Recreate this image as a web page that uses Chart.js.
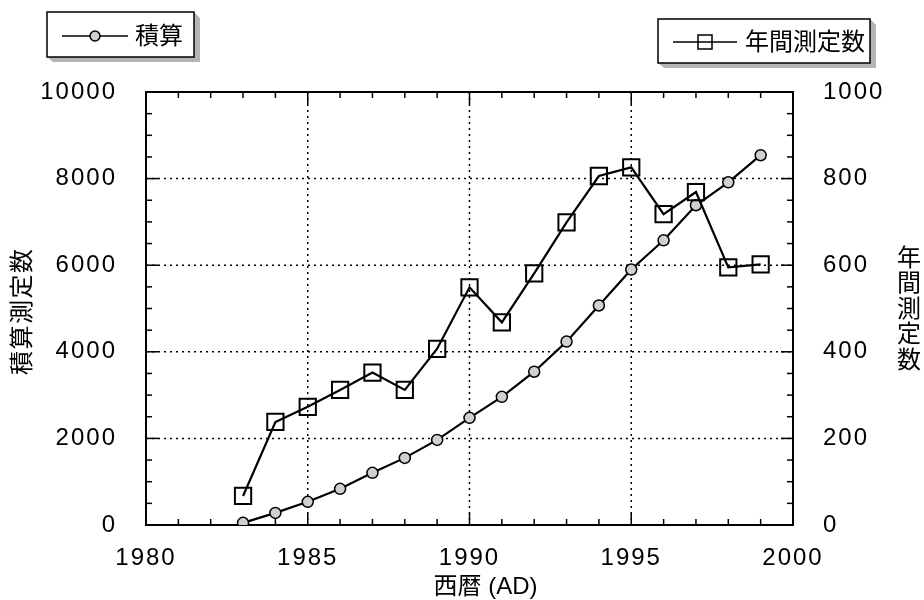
<!DOCTYPE html>
<html>
<head>
<meta charset="utf-8">
<script src="https://cdn.jsdelivr.net/npm/chart.js@4.4.0/dist/chart.umd.min.js"></script>
<style>
  html, body { margin: 0; padding: 0; background: #fff; }
</style>
</head>
<body>
<canvas id="grafico" width="924" height="600"></canvas>
<script>
// Dados
const years = [1983, 1984, 1985, 1986, 1987, 1988, 1989, 1990, 1991, 1992, 1993, 1994, 1995, 1996, 1997, 1998, 1999];
const cumulative = [50, 280, 535, 835, 1205, 1550, 1965, 2475, 2960, 3540, 4235, 5070, 5900, 6575, 7385, 7915, 8540];
const annual = [67, 238, 273, 312, 352, 312, 407, 549, 468, 581, 699, 806, 826, 718, 769, 595, 602];

const xTicks = [1980, 1985, 1990, 1995, 2000];
const yTicks = [0, 2000, 4000, 6000, 8000, 10000];
const y2Ticks = [0, 200, 400, 600, 800, 1000];

const seriesNames = ["積算", "年間測定数"];
const xTitle = "西暦 (AD)";
const yTitle = "積算測定数";
const y2Title = "年間測定数";

const numFont = { family: '"Liberation Sans", Arial, sans-serif', size: 24 };
const cjkFont = '24px "Liberation Sans", "Noto Sans CJK JP", sans-serif';

function line(ctx, x1, y1, x2, y2) {
	ctx.beginPath();
	ctx.moveTo(x1, y1);
	ctx.lineTo(x2, y2);
	ctx.stroke();
}

// Moldura, grade pontilhada e marcas internas
const framePlugin = {
	id: "frame",
	beforeDraw(chart) {
		chart.ctx.letterSpacing = "2px";
	},
	beforeDatasetsDraw(chart) {
		const { ctx, chartArea: a, scales } = chart;
		const { x, y, y2 } = scales;
		ctx.save();
		ctx.strokeStyle = "#000";
		ctx.lineWidth = 1.5;
		ctx.setLineDash([2, 4]);
		xTicks.slice(1, -1).forEach((v) => {
			const px = x.getPixelForValue(v);
			line(ctx, px, a.top, px, a.bottom);
		});
		yTicks.slice(1, -1).forEach((v) => {
			const py = y.getPixelForValue(v);
			line(ctx, a.left, py, a.right, py);
		});
		ctx.setLineDash([]);
		for (let yr = xTicks[0]; yr <= xTicks[xTicks.length - 1]; yr++) {
			const px = x.getPixelForValue(yr);
			const len = yr % 5 === 0 ? 12 : 6;
			line(ctx, px, a.bottom, px, a.bottom - len);
			line(ctx, px, a.top, px, a.top + len);
		}
		for (let v = 0; v <= 10000; v += 500) {
			const py = y.getPixelForValue(v);
			line(ctx, a.left, py, a.left + (v % 2000 === 0 ? 12 : 6), py);
		}
		for (let v = 0; v <= 1000; v += 50) {
			const py = y2.getPixelForValue(v);
			line(ctx, a.right, py, a.right - (v % 200 === 0 ? 12 : 6), py);
		}
		ctx.lineWidth = 2;
		ctx.strokeRect(a.left, a.top, a.right - a.left, a.bottom - a.top);
		ctx.restore();
	},
	afterDraw(chart) {
		const { ctx, chartArea: a } = chart;
		ctx.save();
		ctx.letterSpacing = "0px";
		ctx.fillStyle = "#000";
		ctx.font = cjkFont;
		ctx.textBaseline = "middle";

		// Título do eixo X
		ctx.textAlign = "center";
		ctx.fillText(xTitle, (a.left + a.right) / 2 + 16, 587);

		// Título do eixo Y esquerdo (girado)
		ctx.save();
		ctx.translate(23, 312);
		ctx.rotate(-Math.PI / 2);
		[...yTitle].forEach((ch, i) => ctx.fillText(ch, (i - 2) * 25.5, 0));
		ctx.restore();

		// Título do eixo Y direito (vertical)
		[...y2Title].forEach((ch, i) => ctx.fillText(ch, 909, 259 + i * 25.5));

		// Legendas em caixas com sombra
		function box(x1, y1, x2, y2) {
			ctx.fillStyle = "#b4b4b4";
			ctx.beginPath();
			ctx.moveTo(x2, y1);
			ctx.lineTo(x2 + 6, y1 + 6);
			ctx.lineTo(x2 + 6, y2 + 5);
			ctx.lineTo(x1 + 6, y2 + 5);
			ctx.lineTo(x1, y2);
			ctx.closePath();
			ctx.fill();
			ctx.fillStyle = "#fff";
			ctx.fillRect(x1, y1, x2 - x1, y2 - y1);
			ctx.strokeStyle = "#000";
			ctx.lineWidth = 1.5;
			ctx.strokeRect(x1, y1, x2 - x1, y2 - y1);
		}
		box(47, 12, 194, 57);
		ctx.lineWidth = 1.5;
		line(ctx, 62, 36, 128, 36);
		ctx.beginPath();
		ctx.arc(95, 36, 5, 0, Math.PI * 2);
		ctx.fillStyle = "#d0d0d0";
		ctx.fill();
		ctx.stroke();
		ctx.fillStyle = "#000";
		ctx.textAlign = "left";
		ctx.fillText(seriesNames[0], 135, 37);

		box(658, 19, 870, 63);
		ctx.lineWidth = 1.5;
		line(ctx, 673, 42, 737, 42);
		ctx.strokeRect(698, 35, 14, 14);
		ctx.fillStyle = "#000";
		ctx.fillText(seriesNames[1], 745, 43);
		ctx.restore();
	},
};

const pontosCum = years.map((x, i) => ({ x, y: cumulative[i] }));
const pontosAno = years.map((x, i) => ({ x, y: annual[i] }));

const grafico = new Chart(document.getElementById("grafico"), {
	type: "line",
	data: {
		datasets: [
			{
				label: seriesNames[1],
				data: pontosAno,
				yAxisID: "y2",
				borderColor: "#000",
				borderWidth: 2.2,
				pointStyle: "rect",
				pointRadius: 11.5,
				pointBackgroundColor: "rgba(0,0,0,0)",
				pointBorderColor: "#000",
				pointBorderWidth: 2,
				tension: 0,
			},
			{
				label: seriesNames[0],
				data: pontosCum,
				yAxisID: "y",
				borderColor: "#000",
				borderWidth: 2.2,
				pointStyle: "circle",
				pointRadius: 5.5,
				pointBackgroundColor: "#d0d0d0",
				pointBorderColor: "#000",
				pointBorderWidth: 1.5,
				tension: 0,
			},
		],
	},
	options: {
		responsive: false,
		animation: false,
		devicePixelRatio: 1,
		layout: { padding: { top: 92, left: 0, right: 0, bottom: 0 } },
		plugins: {
			legend: { display: false },
			tooltip: { enabled: false },
		},
		scales: {
			x: {
				type: "linear",
				min: xTicks[0],
				max: xTicks[xTicks.length - 1],
				grid: { display: false },
				border: { display: false },
				ticks: {
					stepSize: 5,
					padding: 11,
					color: "#000",
					font: numFont,
					maxRotation: 0,
					autoSkip: false,
					callback: (v) => String(v),
				},
				afterFit: (s) => { s.height = 75; },
			},
			y: {
				position: "left",
				min: yTicks[0],
				max: yTicks[yTicks.length - 1],
				grid: { display: false },
				border: { display: false },
				ticks: {
					stepSize: 2000,
					padding: 21,
					color: "#000",
					font: numFont,
					callback: (v) => String(v),
				},
				afterFit: (s) => { s.width = 146; },
			},
			y2: {
				position: "right",
				min: y2Ticks[0],
				max: y2Ticks[y2Ticks.length - 1],
				grid: { display: false },
				border: { display: false },
				ticks: {
					stepSize: 200,
					padding: 22,
					color: "#000",
					font: numFont,
					callback: (v) => String(v),
				},
				afterFit: (s) => { s.width = 131; },
			},
		},
	},
	plugins: [framePlugin],
});
</script>
</body>
</html>
